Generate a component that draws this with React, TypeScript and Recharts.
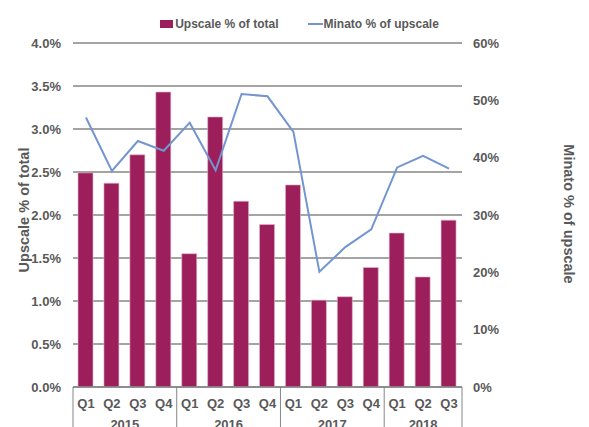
import React from "react";
import {
  ComposedChart,
  Bar,
  Line,
  XAxis,
  YAxis,
  CartesianGrid,
  Legend,
} from "recharts";

const years = ["2015", "2015", "2015", "2015", "2016", "2016", "2016", "2016", "2017", "2017", "2017", "2017", "2018", "2018", "2018"];
const quarters = ["Q1", "Q2", "Q3", "Q4", "Q1", "Q2", "Q3", "Q4", "Q1", "Q2", "Q3", "Q4", "Q1", "Q2", "Q3"];
const upscaleShare = [2.49, 2.37, 2.7, 3.43, 1.55, 3.14, 2.16, 1.89, 2.35, 1.01, 1.05, 1.39, 1.79, 1.28, 1.94];
const minatoShare = [47.0, 37.7, 42.9, 41.2, 46.1, 37.8, 51.1, 50.7, 44.5, 20.1, 24.4, 27.5, 38.3, 40.3, 38.1];
const leftTicks = [0, 0.5, 1, 1.5, 2, 2.5, 3, 3.5, 4];
const rightTicks = [0, 10, 20, 30, 40, 50, 60];

const data = quarters.map((q, i) => ({
  key: `${years[i]} ${q}`,
  q,
  year: years[i],
  upscale: upscaleShare[i],
  minato: minatoShare[i],
}));

const W = 589;
const H = 427;
const TOP = 43;
const LEFT_W = 73;
const RIGHT_W = 127;
const X_H = 40;
const PLOT_W = W - LEFT_W - RIGHT_W;
const AXIS_Y = H - X_H;
const BAND = PLOT_W / data.length;

const FONT = "'Liberation Sans', Arial, sans-serif";
const TEXT = "#595959";
const BAR = "#9c1e5b";
const LINE = "#7395d0";
const GRID = "#868686";

function QuarterTick(props: any) {
  const { x, payload } = props;
  const i = payload.index;
  const d = data[i];
  const first = data.findIndex((r) => r.year === d.year);
  let last = first;
  while (last + 1 < data.length && data[last + 1].year === d.year) last++;
  const groupCenter = x + ((last - first) / 2 - (i - first)) * BAND;
  return (
    <g>
      <text
        x={x}
        y={AXIS_Y + 21}
        textAnchor="middle"
        fill={TEXT}
        fontSize={13}
        fontWeight="bold"
        fontFamily={FONT}
      >
        {d.q}
      </text>
      {i === first && (
        <line x1={x - BAND / 2} x2={x - BAND / 2} y1={AXIS_Y} y2={H + 5} stroke={GRID} strokeWidth={1} />
      )}
      {i === data.length - 1 && (
        <line x1={x + BAND / 2} x2={x + BAND / 2} y1={AXIS_Y} y2={H + 5} stroke={GRID} strokeWidth={1} />
      )}
      {i === first && (
        // year labels sit at the very bottom edge, partly cut like the source
        <text
          x={groupCenter}
          y={AXIS_Y + 42}
          textAnchor="middle"
          fill={TEXT}
          fontSize={13}
          fontWeight="bold"
          fontFamily={FONT}
        >
          {d.year}
        </text>
      )}
    </g>
  );
}

function LegendContent() {
  const item = { display: "flex", alignItems: "center" } as const;
  return (
    <div
      style={{
        display: "flex",
        justifyContent: "center",
        gap: 29,
        fontFamily: FONT,
        fontSize: 12,
        fontWeight: "bold",
        color: TEXT,
        paddingLeft: 10,
      }}
    >
      <div style={item}>
        <span style={{ width: 13, height: 8, background: BAR, marginRight: 2 }} />
        Upscale % of total
      </div>
      <div style={item}>
        <span style={{ width: 15, height: 2, background: LINE, marginRight: 1 }} />
        Minato % of upscale
      </div>
    </div>
  );
}

function LeftLabel(props: any) {
  const { viewBox } = props;
  const cx = viewBox.x + 24;
  const cy = viewBox.y + viewBox.height / 2 - 5;
  return (
    <text
      x={cx}
      y={cy}
      transform={`rotate(-90, ${cx}, ${cy})`}
      textAnchor="middle"
      dominantBaseline="central"
      fill={TEXT}
      fontSize={14.5}
      fontWeight="bold"
      fontFamily={FONT}
    >
      Upscale % of total
    </text>
  );
}

function RightLabel(props: any) {
  const { viewBox } = props;
  const cx = viewBox.x + 107;
  const cy = viewBox.y + viewBox.height / 2 - 1;
  return (
    <text
      x={cx}
      y={cy}
      transform={`rotate(90, ${cx}, ${cy})`}
      textAnchor="middle"
      dominantBaseline="central"
      fill={TEXT}
      fontSize={14.5}
      fontWeight="bold"
      fontFamily={FONT}
    >
      Minato % of upscale
    </text>
  );
}

export default function App() {
  const tickStyle = { fill: TEXT, fontSize: 13, fontWeight: "bold", fontFamily: FONT };
  return (
    <div style={{ position: "fixed", left: 0, top: 0, width: W, height: H, background: "#fff" }}>
      <ComposedChart
        width={W}
        height={H}
        data={data}
        margin={{ top: TOP, right: 0, bottom: 0, left: 0 }}
      >
        <CartesianGrid vertical={false} stroke={GRID} strokeWidth={1.3} yAxisId="left" />
        <XAxis
          dataKey="key"
          height={X_H}
          tickLine={false}
          axisLine={{ stroke: GRID, strokeWidth: 1.3 }}
          tick={<QuarterTick />}
          interval={0}
        />
        <YAxis
          yAxisId="left"
          width={LEFT_W}
          domain={[0, 4]}
          ticks={leftTicks}
          tickFormatter={(v: number) => `${v.toFixed(1)}%`}
          axisLine={false}
          tickLine={false}
          tick={tickStyle}
          tickMargin={6}
          label={<LeftLabel />}
        />
        <YAxis
          yAxisId="right"
          orientation="right"
          width={RIGHT_W}
          domain={[0, 60]}
          ticks={rightTicks}
          tickFormatter={(v: number) => `${v}%`}
          axisLine={false}
          tickLine={false}
          tick={tickStyle}
          tickMargin={5}
          label={<RightLabel />}
        />
        <Legend
          verticalAlign="middle"
          align="center"
          content={<LegendContent />}
          wrapperStyle={{ top: 17, left: 0, width: W }}
        />
        <Bar
          yAxisId="left"
          dataKey="upscale"
          name="Upscale % of total"
          fill={BAR}
          stroke="#e3b9cc"
          strokeWidth={0.6}
          barSize={15}
          isAnimationActive={false}
        />
        <Line
          yAxisId="right"
          dataKey="minato"
          name="Minato % of upscale"
          stroke={LINE}
          strokeWidth={2}
          dot={false}
          activeDot={false}
          isAnimationActive={false}
        />
      </ComposedChart>
    </div>
  );
}
